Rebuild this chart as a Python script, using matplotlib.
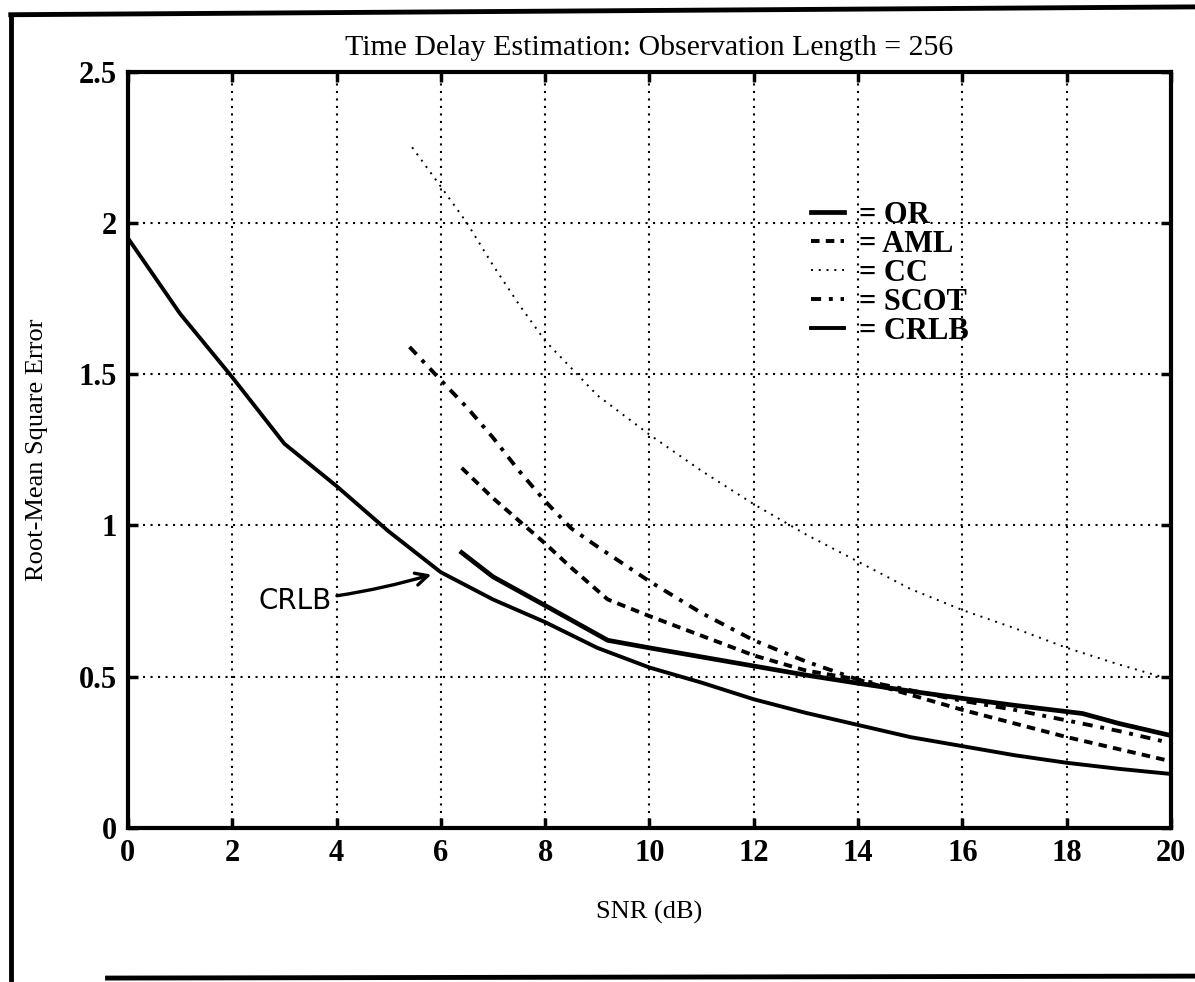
import matplotlib
matplotlib.use("Agg")
import matplotlib.pyplot as plt
from matplotlib.lines import Line2D

plt.rcParams["font.family"] = ["Liberation Serif", "DejaVu Serif"]

# --- data ---
snr_crlb = [0, 1, 2, 3, 4, 5, 6, 7, 8, 9, 10, 11, 12, 13, 14, 15, 16, 17, 18, 19, 20]
rmse_crlb = [1.95, 1.70, 1.49, 1.27, 1.13, 0.98, 0.845, 0.755, 0.68, 0.595, 0.53, 0.48, 0.425,
             0.38, 0.34, 0.30, 0.27, 0.24, 0.215, 0.195, 0.178]

snr_or = [6.4, 7, 8, 9.2, 10, 11, 12, 13, 14, 15, 16, 17, 18.3, 19, 20]
rmse_or = [0.91, 0.83, 0.735, 0.62, 0.595, 0.565, 0.535, 0.505, 0.478, 0.452, 0.428, 0.405,
           0.378, 0.345, 0.305]

snr_aml = [6.4, 7, 7.5, 8, 8.5, 9.2, 10, 11, 12, 13, 14, 15, 16, 17, 18, 19, 20]
rmse_aml = [1.19, 1.09, 1.015, 0.94, 0.86, 0.755, 0.70, 0.635, 0.57, 0.52, 0.49, 0.44, 0.39,
            0.345, 0.30, 0.26, 0.22]

snr_scot = [5.4, 6, 6.5, 7, 7.5, 8, 8.5, 9, 10, 11, 12, 13, 14, 15, 16, 17, 18, 19, 20]
rmse_scot = [1.59, 1.48, 1.39, 1.29, 1.18, 1.08, 0.99, 0.93, 0.815, 0.71, 0.62, 0.55, 0.49,
             0.455, 0.42, 0.39, 0.355, 0.32, 0.28]

snr_cc = [5.45, 6, 6.5, 7, 7.5, 8, 9, 10, 11, 12, 13, 14, 15, 16, 17, 18, 19, 20]
rmse_cc = [2.25, 2.12, 2.0, 1.86, 1.73, 1.61, 1.43, 1.30, 1.18, 1.07, 0.97, 0.88, 0.79, 0.72,
           0.66, 0.595, 0.54, 0.49]

xticks = [0, 2, 4, 6, 8, 10, 12, 14, 16, 18, 20]
yticks = [0, 0.5, 1, 1.5, 2, 2.5]
yticklabels = ["0", "0.5", "1", "1.5", "2", "2.5"]

fig = plt.figure(figsize=(11.95, 9.82), dpi=100)
ax = fig.add_axes([0.107, 0.157, 0.873, 0.77])

ax.plot(snr_or, rmse_or, color="black", lw=3.4, ls="-", label="= OR")
ax.plot(snr_aml, rmse_aml, color="black", lw=2.8, ls=(0, (2.2, 1.6)), label="= AML")
ax.plot(snr_cc, rmse_cc, color="black", lw=1.4, ls=(0, (1, 3)), label="= CC")
ax.plot(snr_scot, rmse_scot, color="black", lw=2.8, ls=(0, (2.6, 2, 1, 2)), label="= SCOT")
ax.plot(snr_crlb, rmse_crlb, color="black", lw=2.8, ls="-", label="= CRLB")

ax.set_xlim(0, 20)
ax.set_ylim(0, 2.5)
ax.set_xticks(xticks)
ax.set_yticks(yticks)
ax.set_yticklabels(yticklabels)
ax.grid(True, color="black", ls=(0, (1, 2.6)), lw=1.5)
ax.tick_params(direction="in", length=7, width=2.5, top=True, right=True,
               labelsize=22, pad=8)
for lab in ax.get_xticklabels() + ax.get_yticklabels():
    lab.set_fontweight("bold")
for sp in ax.spines.values():
    sp.set_linewidth(3)

ax.set_title("Time Delay Estimation: Observation Length = 256", fontsize=21.5, pad=12)
ax.set_xlabel("SNR (dB)", fontsize=19, labelpad=24)
ax.set_ylabel("Root-Mean Square Error", fontsize=19, labelpad=22)

ax.legend(loc="upper left", bbox_to_anchor=(0.628, 0.866), frameon=False,
          handlelength=1.1, handletextpad=0.5, labelspacing=0.0,
          prop={"family": "Liberation Serif", "size": 22, "weight": "bold"})

# hand-written CRLB annotation
ax.annotate("CRLB", xy=(5.87, 0.84), xytext=(3.2, 0.75), fontsize=20,
            family="DejaVu Sans", ha="center", va="center",
            arrowprops=dict(arrowstyle="->", color="black", lw=2.4,
                            connectionstyle="arc3,rad=0.05", shrinkA=2,
                            mutation_scale=22))

# scanned page frame
frame = [([0.009, 0.009], [0.003, 0.985]),
         ([0.009, 1.0], [0.985, 0.993]),
         ([0.09, 1.0], [0.004, 0.006])]
for xs, ys in frame:
    fig.add_artist(Line2D(xs, ys, color="black", lw=3.5, transform=fig.transFigure))

fig.savefig("out.png", dpi=100, facecolor="white")
